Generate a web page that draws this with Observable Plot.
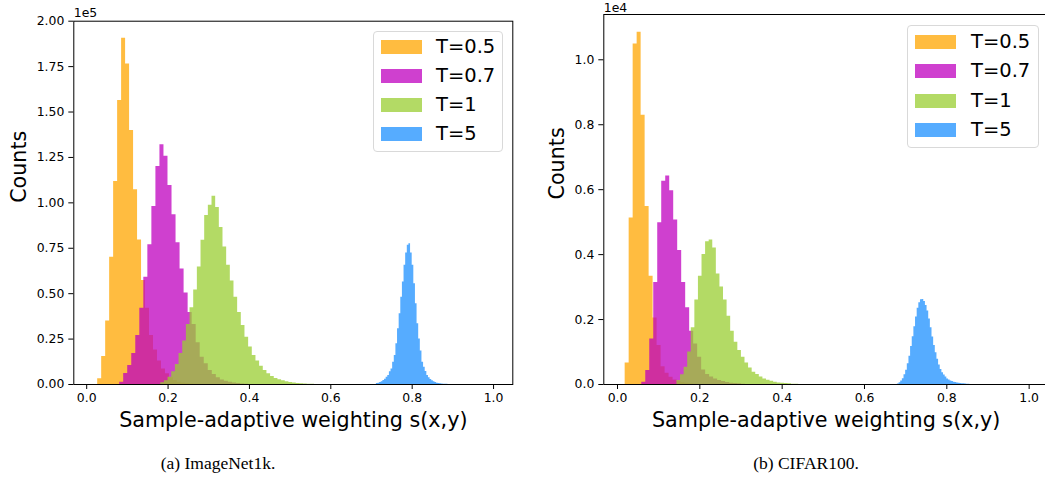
<!DOCTYPE html>
<html>
<head>
<meta charset="utf-8">
<script src="https://cdn.jsdelivr.net/npm/d3@7"></script>
<script src="https://cdn.jsdelivr.net/npm/@observablehq/plot@0.6"></script>
<style>
  html, body { margin: 0; padding: 0; background: #fff; }
  #wrap { position: relative; width: 1045px; height: 477px; overflow: hidden; background: #fff; }
  .panel { position: absolute; top: 0; }
  .legend { position: absolute; box-sizing: border-box; border: 1px solid #d9d9d9; border-radius: 4px; background: rgba(255,255,255,0.8); }
  .legend .sw { position: absolute; width: 41px; height: 14px; }
  .legend .lb { position: absolute; font-family: "DejaVu Sans", sans-serif; font-size: 19.5px; line-height: 1; color: #000; white-space: nowrap; }
  .cap { position: absolute; font-family: "Liberation Serif", "Times New Roman", serif; font-size: 17.5px; color: #000; white-space: nowrap; transform: translate(-50%, -50%); }
</style>
</head>
<body>
<div id="wrap"></div>
<script>
// ---------------- data ----------------
const seriesNames = ["T=0.5", "T=0.7", "T=1", "T=5"];
const seriesColors = ["#FFA500", "#BF00BF", "#9ACD32", "#1E90FF"];
const xTicks = [0.0, 0.2, 0.4, 0.6, 0.8, 1.0];
const xLabel = "Sample-adaptive weighting s(x,y)";
const yLabel = "Counts";
const captions = ["(a) ImageNet1k.", "(b) CIFAR100."];

// (a) ImageNet1k: counts in units of 1e5; each histogram: first bin edge, bin width, counts
const inYTicks = [0, 0.25, 0.5, 0.75, 1.0, 1.25, 1.5, 1.75, 2.0];
const inStart = [0.027, 0.081, 0.182, 0.712];
const inWidth = [0.0098, 0.0099, 0.009, 0.004];
const inT05 = [0.031, 0.154, 0.349, 0.70, 1.117, 1.563, 1.906, 1.765, 1.398, 1.072, 0.796, 0.572, 0.42, 0.27, 0.19, 0.13, 0.086, 0.059, 0.037, 0.022, 0.013, 0.008, 0.005, 0.003, 0.002, 0.001];
const inT07 = [0.013, 0.06, 0.105, 0.17, 0.27, 0.42, 0.59, 0.77, 0.98, 1.20, 1.32, 1.257, 1.095, 0.934, 0.78, 0.636, 0.504, 0.397, 0.33, 0.23, 0.15, 0.114, 0.077, 0.055, 0.037, 0.025, 0.018, 0.012, 0.008, 0.005, 0.003, 0.002];
const inT1 = [0.01, 0.02, 0.04, 0.07, 0.11, 0.17, 0.24, 0.33, 0.423, 0.52, 0.647, 0.794, 0.93, 0.987, 1.037, 0.974, 0.864, 0.757, 0.656, 0.57, 0.48, 0.397, 0.325, 0.26, 0.206, 0.16, 0.129, 0.10, 0.077, 0.059, 0.044, 0.033, 0.026, 0.02, 0.015, 0.011, 0.008, 0.006, 0.004, 0.003, 0.002, 0.001];
const inT5 = [0.005, 0.007, 0.011, 0.015, 0.022, 0.029, 0.040, 0.05, 0.07, 0.086, 0.123, 0.16, 0.224, 0.307, 0.39, 0.48, 0.564, 0.656, 0.724, 0.766, 0.775, 0.724, 0.656, 0.555, 0.444, 0.334, 0.25, 0.184, 0.123, 0.095, 0.072, 0.05, 0.037, 0.028, 0.02, 0.015, 0.011, 0.007, 0.005, 0.004, 0.003, 0.002, 0.001, 0.001];

// (b) CIFAR100: counts in units of 1e4
const cfYTicks = [0, 0.2, 0.4, 0.6, 0.8, 1.0];
const cfStart = [0.0186, 0.0589, 0.1444, 0.680];
const cfWidth = [0.0097, 0.0097, 0.0087, 0.004];
const cfT05 = [0.066, 0.513, 1.049, 1.085, 0.829, 0.548, 0.333, 0.205, 0.12, 0.055, 0.035, 0.022, 0.014, 0.009, 0.006, 0.004, 0.002, 0.001];
const cfT07 = [0.007, 0.043, 0.14, 0.314, 0.498, 0.626, 0.642, 0.597, 0.507, 0.413, 0.314, 0.236, 0.164, 0.125, 0.084, 0.045, 0.031, 0.023, 0.017, 0.012, 0.009, 0.006, 0.004, 0.003, 0.002, 0.001];
const cfT1 = [0.012, 0.03, 0.053, 0.10, 0.175, 0.26, 0.333, 0.40, 0.44, 0.445, 0.42, 0.34, 0.30, 0.26, 0.21, 0.164, 0.13, 0.105, 0.084, 0.066, 0.051, 0.038, 0.031, 0.023, 0.017, 0.013, 0.010, 0.007, 0.005, 0.004, 0.003, 0.002, 0.001, 0.001];
const cfT5 = [0.0015, 0.0056, 0.011, 0.018, 0.030, 0.044, 0.064, 0.087, 0.117, 0.147, 0.178, 0.208, 0.235, 0.252, 0.261, 0.262, 0.256, 0.243, 0.226, 0.202, 0.175, 0.146, 0.12, 0.098, 0.078, 0.06, 0.046, 0.036, 0.029, 0.023, 0.017, 0.014, 0.011, 0.009, 0.007, 0.006, 0.005, 0.004, 0.003, 0.0025, 0.002, 0.0015, 0.001, 0.0005];

// ---------------- helpers ----------------
function stepPoints(start, width, counts) {
  const pts = counts.map((c, i) => ({x: start + i * width, y: c}));
  pts.push({x: start + counts.length * width, y: 0});
  return pts;
}

function makePanel(cfg) {
  const marks = [];
  cfg.series.forEach((counts, k) => {
    marks.push(Plot.areaY(stepPoints(cfg.start[k], cfg.width[k], counts), {
      x: "x", y: "y", curve: "step-after", fill: seriesColors[k], fillOpacity: 0.75
    }));
  });
  marks.push(Plot.axisX({ticks: xTicks, tickFormat: d => d.toFixed(1), tickSize: 5, tickPadding: 4, label: null, fontSize: 12.4}));
  marks.push(Plot.axisY({ticks: cfg.yTicks, tickFormat: d => d.toFixed(cfg.yDigits), tickSize: 5, tickPadding: 4.5, label: null, fontSize: 12.4}));
  marks.push(Plot.frame({stroke: "#000", strokeWidth: 1}));
  marks.push(Plot.text([xLabel], {text: d => d, frameAnchor: "bottom", lineAnchor: "middle", dy: 36, fontSize: 20.7}));
  marks.push(Plot.text([yLabel], {text: d => d, frameAnchor: "left", lineAnchor: "middle", dx: cfg.ylabelDx, rotate: -90, fontSize: 20.7}));
  marks.push(Plot.text([cfg.offset], {text: d => d, frameAnchor: "top-left", lineAnchor: "middle", textAnchor: "start", dy: cfg.offsetDy, fontSize: 12.4}));
  return Plot.plot({
    width: cfg.width_, height: 440,
    marginLeft: cfg.ml, marginRight: cfg.mr, marginTop: cfg.mt, marginBottom: 440 - 384,
    x: {domain: cfg.xDomain},
    y: {domain: cfg.yDomain},
    style: {fontFamily: "DejaVu Sans, sans-serif", fontSize: "12.4px", color: "#000", background: "transparent", overflow: "visible"},
    marks
  });
}

function makeLegend(box) {
  const lg = document.createElement("div");
  lg.className = "legend";
  lg.style.left = box.x + "px"; lg.style.top = box.y + "px";
  lg.style.width = box.w + "px"; lg.style.height = box.h + "px";
  seriesNames.forEach((name, k) => {
    const cy = box.rows[k] - box.y;
    const sw = document.createElement("div");
    sw.className = "sw";
    sw.style.left = (box.swx - box.x) + "px";
    sw.style.top = (cy - 7) + "px";
    sw.style.background = seriesColors[k];
    sw.style.opacity = 0.75;
    lg.appendChild(sw);
    const lb = document.createElement("div");
    lb.className = "lb";
    lb.textContent = name;
    lb.style.left = (box.tx - box.x) + "px";
    lb.style.top = (cy - 10) + "px";
    lg.appendChild(lb);
  });
  return lg;
}

const wrap = document.getElementById("wrap");

const p1 = makePanel({
  series: [inT05, inT07, inT1, inT5], start: inStart, width: inWidth,
  yTicks: inYTicks, yDigits: 2, yDomain: [0, 2.0], xDomain: [-0.0317, 1.0473],
  width_: 520, ml: 73.3, mr: 520 - 512.3, mt: 20.7, ylabelDx: -54, offset: "1e5", offsetDy: -8.3
});
p1.classList.add("panel"); p1.style.left = "0px";
wrap.appendChild(p1);

const p2 = makePanel({
  series: [cfT05, cfT07, cfT1, cfT5], start: cfStart, width: cfWidth,
  yTicks: cfYTicks, yDigits: 1, yDomain: [0, 1.1395], xDomain: [-0.0333, 1.047],
  width_: 540, ml: 83.3, mr: 540 - 528, mt: 14, ylabelDx: -46.5, offset: "1e4", offsetDy: -6.5
});
p2.classList.add("panel"); p2.style.left = "520px";
wrap.appendChild(p2);

wrap.appendChild(makeLegend({x: 373, y: 31, w: 130, h: 121, swx: 380, tx: 435, rows: [46, 75, 104, 133]}));
wrap.appendChild(makeLegend({x: 907, y: 24.5, w: 132, h: 123, swx: 914, tx: 970, rows: [40.5, 70, 99.5, 128.5]}));

[[218, 463, captions[0]], [806, 463, captions[1]]].forEach(([x, y, t]) => {
  const c = document.createElement("div");
  c.className = "cap";
  c.style.left = x + "px"; c.style.top = y + "px";
  c.textContent = t;
  wrap.appendChild(c);
});
</script>
</body>
</html>
